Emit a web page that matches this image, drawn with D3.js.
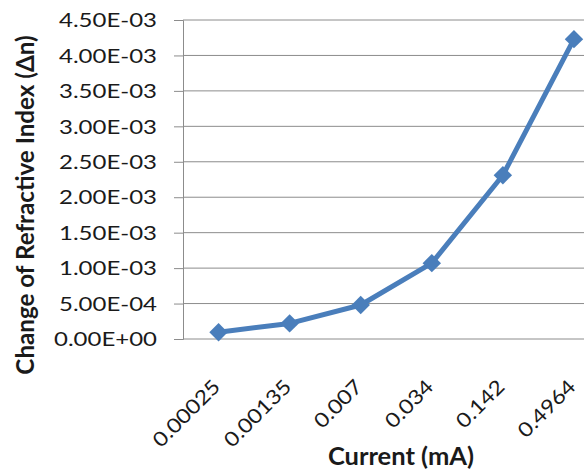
<!DOCTYPE html>
<html>
<head>
<meta charset="utf-8">
<script src="https://cdn.jsdelivr.net/npm/d3@7"></script>
<style>
  html, body { margin: 0; padding: 0; background: #fff; }
  svg { display: block; font-family: Lato, "Open Sans", sans-serif; }
</style>
</head>
<body>
<svg id="chart" width="584" height="471"></svg>
<script>
// Current (mA) categories and the measured change of refractive index
const currents = ["0.00025", "0.00135", "0.007", "0.034", "0.142", "0.4964"];
const deltaN = [9.5e-5, 2.2e-4, 4.8e-4, 1.07e-3, 2.31e-3, 4.23e-3];
const yTicks = [0, 5e-4, 1e-3, 1.5e-3, 2e-3, 2.5e-3, 3e-3, 3.5e-3, 4e-3, 4.5e-3];

const svg = d3.select("#chart");
const plot = { left: 183, right: 609.5, top: 20, bottom: 339 };
const gridColor = "#8c8c8c";
const textColor = "#1a1a1a";
const seriesColor = "#4a7ebb";

const x = d3.scaleBand().domain(currents).range([plot.left, plot.right]);
const y = d3.scaleLinear().domain([0, 4.5e-3]).range([plot.bottom, plot.top]);
const cx = d => x(d) + x.bandwidth() / 2;

// scientific notation in the 0.00E+00 style
const fmt = v => {
  if (v === 0) return "0.00E+00";
  const e = Math.floor(Math.log10(v) + 1e-9);
  const m = v / Math.pow(10, e);
  const sign = e < 0 ? "-" : "+";
  return m.toFixed(2) + "E" + sign + String(Math.abs(e)).padStart(2, "0");
};

// horizontal gridlines
svg.append("g")
  .selectAll("line")
  .data(yTicks.slice(1))
  .join("line")
  .attr("x1", plot.left).attr("x2", plot.right)
  .attr("y1", d => y(d)).attr("y2", d => y(d))
  .attr("stroke", gridColor).attr("stroke-width", 1);

// y axis line and ticks (labels drawn separately below)
const yAxis = svg.append("g")
  .attr("transform", `translate(${plot.left},0)`)
  .call(d3.axisLeft(y).tickValues(yTicks).tickFormat("").tickSize(9));
yAxis.select(".domain").attr("stroke", gridColor);
yAxis.selectAll(".tick line").attr("stroke", gridColor);

// y tick labels, slightly widened glyphs
svg.append("g")
  .selectAll("text")
  .data(yTicks)
  .join("text")
  .attr("transform", d => `translate(157,${y(d)}) scale(1.2,1)`)
  .attr("text-anchor", "end")
  .attr("dy", "0.36em")
  .attr("font-size", 20)
  .attr("fill", textColor)
  .text(fmt);

// x axis baseline
svg.append("line")
  .attr("x1", plot.left).attr("x2", plot.right)
  .attr("y1", plot.bottom).attr("y2", plot.bottom)
  .attr("stroke", gridColor);

// x tick labels, rotated
svg.append("g")
  .selectAll("text")
  .data(currents)
  .join("text")
  .attr("transform", d => `translate(${cx(d) + 3},${plot.bottom + 49}) rotate(-45) scale(1.15,1)`)
  .attr("text-anchor", "end")
  .attr("font-size", 20)
  .attr("fill", textColor)
  .text(d => d);

// axis titles
svg.append("text")
  .attr("x", 401).attr("y", 465)
  .attr("text-anchor", "middle")
  .attr("font-size", 25.5).attr("font-weight", "bold")
  .attr("fill", textColor)
  .text("Current (mA)");

svg.append("text")
  .attr("transform", `translate(34,205) rotate(-90)`)
  .attr("text-anchor", "middle")
  .attr("font-size", 24.2).attr("font-weight", "bold")
  .attr("fill", textColor)
  .text("Change of Refractive Index (Δn)");

// data line and diamond markers
const line = d3.line().x((d, i) => cx(currents[i])).y(d => y(d));

svg.append("path")
  .datum(deltaN)
  .attr("d", line)
  .attr("fill", "none")
  .attr("stroke", seriesColor)
  .attr("stroke-width", 5)
  .attr("stroke-linejoin", "round");

svg.append("g")
  .selectAll("path")
  .data(deltaN)
  .join("path")
  .attr("d", d3.symbol(d3.symbolSquare, 170))
  .attr("transform", (d, i) => `translate(${cx(currents[i])},${y(d)}) rotate(45)`)
  .attr("fill", seriesColor);
</script>
</body>
</html>
